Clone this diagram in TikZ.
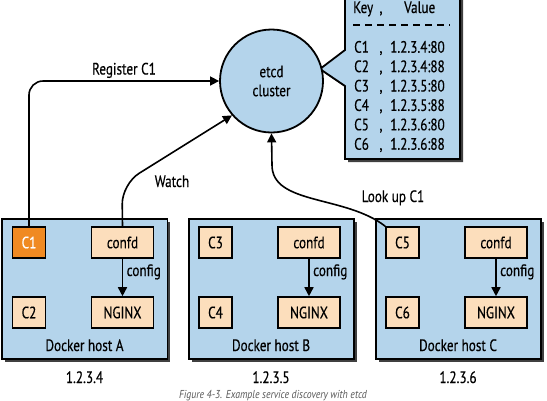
\documentclass[tikz,border=0pt]{standalone}
\usepackage{fontspec}
\setmainfont{PT Sans}[FakeStretch=0.80, FakeBold=0.4]
\newfontfamily\capfont{PT Sans}[FakeStretch=0.85]
\usetikzlibrary{arrows.meta,shadows}
\definecolor{hostblue}{RGB}{180,212,235}
\definecolor{peach}{RGB}{252,222,188}
\definecolor{corange}{RGB}{240,138,34}
\begin{document}
\begin{tikzpicture}[x=1pt,y=-1pt,
  every node/.style={font=\fontsize{16.5}{19}\selectfont, inner sep=0pt},
  shade3/.style={drop shadow={shadow xshift=3pt, shadow yshift=-3pt, fill=black!75, opacity=1}},
  hostbox/.style={draw=black, line width=1.8pt, fill=hostblue, shade3, anchor=north west, minimum width=165, minimum height=140},
  ibox/.style={draw=black, line width=1.6pt, fill=peach, minimum height=31},
  cbox/.style={ibox, minimum width=33},
  wbox/.style={ibox, minimum width=62},
  conn/.style={draw=black, line width=1.6pt, -{Triangle[length=9pt,width=9pt]}},
  lbl/.style={anchor=base},
  tbl/.style={anchor=base west}
]
\clip (0,0) rectangle (547,400);
\fill[white] (0,0) rectangle (547,400);

% key/value callout
\draw[line width=1.8pt, fill=hostblue, shade3]
  (345,-10) -- (460,-10) -- (460,159) -- (345,159) -- (345,86) -- (320,69) -- (345,50) -- cycle;
\node[tbl] (kkey) at (353,13) {Key};
\node[lbl] (kcom) at (381,13) {,};
\node[tbl] (kval) at (404,13) {Value};
\draw[line width=1.8pt, dash pattern=on 7pt off 5pt] (353,25) -- (450,25);
\foreach \i/\c/\v in {0/C1/1.2.3.4:80,1/C2/1.2.3.4:88,2/C3/1.2.3.5:80,3/C4/1.2.3.5:88,4/C5/1.2.3.6:80,5/C6/1.2.3.6:88}{
  \node[tbl] (r\i c) at (354,52.7+19.4*\i) {\c};
  \node[lbl] (r\i m) at (381,52.7+19.4*\i) {,};
  \node[tbl] (r\i v) at (390,52.7+19.4*\i) {\v};
}

% etcd
\node[circle, draw=black, line width=1.8pt, fill=hostblue, minimum size=103, align=center,
  font=\fontsize{16.5}{19}\selectfont] (etcd) at (271.5,81) {etcd\\cluster};

% hosts
\foreach \h/\L/\a/\b/\ip in {A/1.5/C1/C2/1.2.3.4, B/188/C3/C4/1.2.3.5, C/375/C5/C6/1.2.3.6}{
  \node[hostbox] (host\h) at (\L,218) {};
  \node[cbox] (top\h) at (\L+27.5,242.5) {\a};
  \node[wbox] (confd\h) at (\L+121,242.5) {confd};
  \node[cbox] (bot\h) at (\L+27.5,312.5) {\b};
  \node[wbox] (nginx\h) at (\L+121,312.5) {NGINX};
  \draw[conn] (confd\h) -- (nginx\h);
  \node[anchor=base west] (cfg\h) at (\L+125,276) {config};
  \node[lbl] (dh\h) at (\L+83,351) {Docker host \h};
  \node[lbl] (ip\h) at (\L+83,383) {\ip};
}
\node[cbox, fill=corange, text=white] at (topA) {C1};

% connectors
\draw[conn, rounded corners=14] (topA.north) |- (etcd.west);
\node[lbl] (reg) at (124,74.5) {Register C1};
\draw[conn, rounded corners=20] (confdA.north) -- (122,184) -- (etcd.221);
\node[lbl] (watch) at (172,187) {Watch};
\draw[conn] (topC.north west) .. controls (345,195) and (272,205) .. (272,165) -- (etcd.south);
\node[lbl] (look) at (393,202) {Look up C1};

% caption
\node[anchor=base, font=\fontsize{11.5}{13}\capfont\itshape, text=black!65] (cap) at (273,398)
  {Figure 4-3. Example service discovery with etcd};
\end{tikzpicture}
\end{document}
